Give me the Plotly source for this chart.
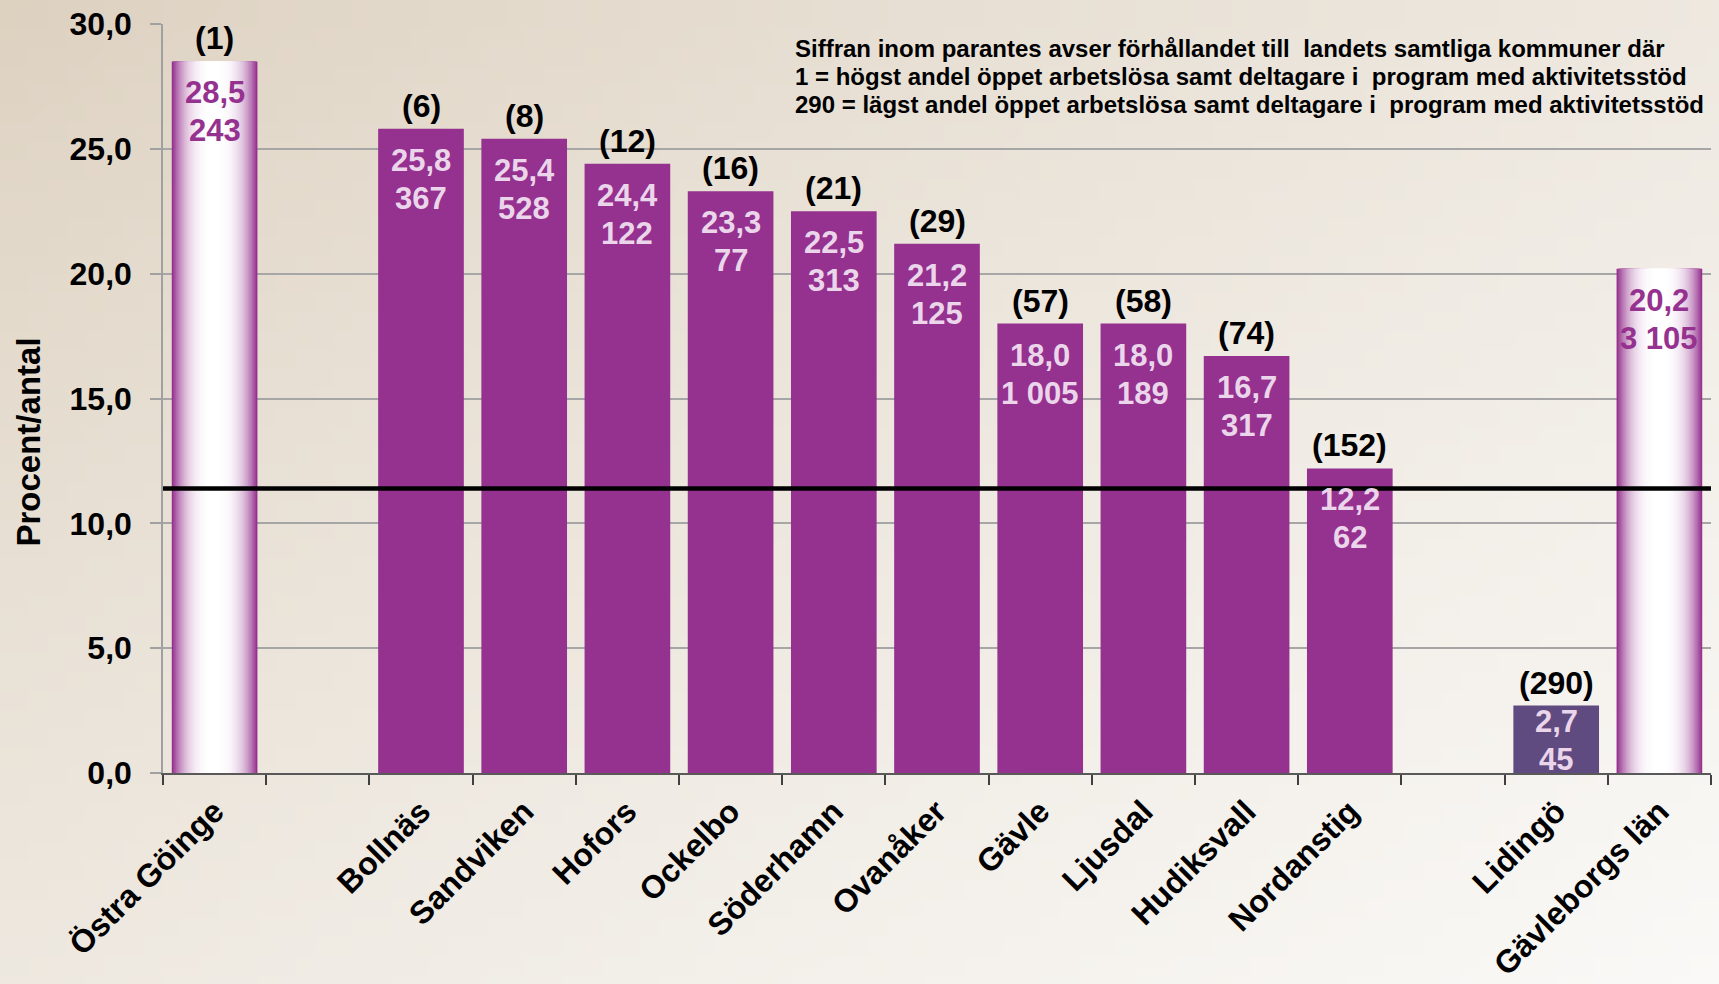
import base64, struct, zlib
import plotly.graph_objects as go

# ---------------- data ----------------
categories = ["Östra Göinge", " ", "Bollnäs", "Sandviken", "Hofors", "Ockelbo",
              "Söderhamn", "Ovanåker", "Gävle", "Ljusdal", "Hudiksvall",
              "Nordanstig", "  ", "Lidingö", "Gävleborgs län"]
percent = [28.5, None, 25.8, 25.4, 24.4, 23.3, 22.5, 21.2, 18.0, 18.0, 16.7,
           12.2, None, 2.7, 20.2]
counts = [243, None, 367, 528, 122, 77, 313, 125, 1005, 189, 317, 62, None, 45, 3105]
ranks = [1, None, 6, 8, 12, 16, 21, 29, 57, 58, 74, 152, None, 290, None]
bar_style = ["gradient", None, "solid", "solid", "solid", "solid", "solid", "solid",
             "solid", "solid", "solid", "solid", None, "dark", "gradient"]
national_avg = 11.4
y_ticks = [0, 5, 10, 15, 20, 25, 30]
note_lines = [
    "Siffran inom parantes avser förhållandet till  landets samtliga kommuner där",
    "1 = högst andel öppet arbetslösa samt deltagare i  program med aktivitetsstöd",
    "290 = lägst andel öppet arbetslösa samt deltagare i  program med aktivitetsstöd",
]
y_title = "Procent/antal"

# ---------------- styling ----------------
W, H = 1719, 984
ML, MR, MT, MB = 163, 8, 24, 211
PW, PH = W - ML - MR, H - MT - MB
Y_MAX = 30
FONT = "Liberation Sans, Arial, sans-serif"
PURPLE = (149, 49, 142)
PURPLE_HEX = "#95318E"
DARK = "#5F4B7F"
LABEL_LIGHT = "#EBD5EB"
BAR_W = 0.83
VAL_SIZE = 31
RANK_SIZE = 32
NOTE_SIZE = 24
NOTE_TOP = 49      # px from top, centre of first note line
NOTE_STEP = 28     # px between note lines
NOTE_LEFT = 793
LABEL_BLOCK = 83   # px needed inside a bar for the two value lines


def fmt_num(v, dec=None):
    if dec is not None:
        return f"{v:.{dec}f}".replace(".", ",")
    return f"{v:,}".replace(",", " ")


def make_png(w, h, fn):
    raw = b""
    for yy in range(h):
        row = b"\x00"
        for xx in range(w):
            row += bytes(fn(xx / (w - 1), yy / (h - 1)))
        raw += row

    def chunk(tag, data):
        c = struct.pack(">I", len(data)) + tag + data
        return c + struct.pack(">I", zlib.crc32(tag + data) & 0xFFFFFFFF)

    png = b"\x89PNG\r\n\x1a\n"
    png += chunk(b"IHDR", struct.pack(">IIBBBBB", w, h, 8, 2, 0, 0, 0))
    png += chunk(b"IDAT", zlib.compress(raw, 9))
    png += chunk(b"IEND", b"")
    return "data:image/png;base64," + base64.b64encode(png).decode()


c0 = (221, 209, 192)
c1 = (250, 249, 247)


def bg_fn(u, v):
    t = (u + v) / 2.0
    t = t ** 0.8
    return tuple(int(round(a + (b - a) * t)) for a, b in zip(c0, c1))


bg_uri = make_png(90, 52, bg_fn)

fig = go.Figure()

# main bars
colors = [DARK if s == "dark" else PURPLE_HEX for s in bar_style]
fig.add_trace(go.Bar(x=categories, y=percent, width=BAR_W,
                     marker=dict(color=colors, line=dict(width=0)),
                     hoverinfo="skip", showlegend=False))

# gradient layers for highlighted bars (purple edges -> white centre)
g_x = [c for c, s in zip(categories, bar_style) if s == "gradient"]
g_y = [p for p, s in zip(percent, bar_style) if s == "gradient"]
N = 32
for i in range(1, N):
    t = i / N
    f = 1 - (1 - t) ** 3
    col = tuple(int(round(p + (255 - p) * f)) for p in PURPLE)
    fig.add_trace(go.Bar(x=g_x, y=g_y, width=BAR_W * (1 - t),
                         marker=dict(color="rgb(%d,%d,%d)" % col, line=dict(width=0)),
                         hoverinfo="skip", showlegend=False))

annotations = []
for c, p, n, r, s in zip(categories, percent, counts, ranks, bar_style):
    if p is None:
        continue
    tcol = PURPLE_HEX if s == "gradient" else LABEL_LIGHT
    bar_px = p * PH / Y_MAX
    lift = max(0.0, LABEL_BLOCK - bar_px)   # keep labels inside short bars
    for k, txt in enumerate([fmt_num(p, 1), fmt_num(n)]):
        annotations.append(dict(
            x=c, y=p, xref="x", yref="y", yanchor="top", xanchor="center",
            text=txt, showarrow=False, yshift=-12 - 38 * k + lift,
            font=dict(family=FONT, size=VAL_SIZE, color=tcol, weight="bold")))
    if r is not None:
        annotations.append(dict(
            x=c, y=p, xref="x", yref="y", yanchor="bottom", xanchor="center",
            text=f"({r})", showarrow=False, yshift=3,
            font=dict(family=FONT, size=RANK_SIZE, color="black", weight="bold")))

annotations.append(dict(
    x=(27.5 - ML) / PW, y=(H - MB - 442) / PH, xref="paper", yref="paper",
    text=y_title, textangle=-90, showarrow=False, xanchor="center", yanchor="middle",
    font=dict(family=FONT, size=33, color="black", weight="bold")))
for k, line in enumerate(note_lines):
    annotations.append(dict(
        x=(NOTE_LEFT - ML) / PW, y=(H - MB - (NOTE_TOP + NOTE_STEP * k)) / PH,
        xref="paper", yref="paper", text=line, showarrow=False,
        xanchor="left", yanchor="middle", align="left",
        font=dict(family=FONT, size=NOTE_SIZE, color="black", weight="bold")))

fig.update_layout(
    width=W, height=H,
    margin=dict(l=ML, r=MR, t=MT, b=MB, autoexpand=False),
    barmode="overlay",
    paper_bgcolor="#ECE6DD",
    plot_bgcolor="rgba(0,0,0,0)",
    separators=", ",
    showlegend=False,
    annotations=annotations,
    images=[dict(source=bg_uri, xref="paper", yref="paper",
                 x=-ML / PW, y=1 + MT / PH, sizex=W / PW, sizey=H / PH,
                 xanchor="left", yanchor="top", sizing="stretch", layer="below")],
    shapes=[dict(type="line", xref="paper", yref="y", x0=0, x1=1,
                 y0=national_avg, y1=national_avg,
                 line=dict(color="black", width=4.5), layer="above")],
)
fig.update_xaxes(
    categoryorder="array", categoryarray=categories,
    tickangle=-45, tickson="boundaries", ticks="outside", ticklen=10,
    tickcolor="#404040", tickwidth=1.5,
    showline=True, linecolor="#595959", linewidth=2,
    tickfont=dict(family=FONT, size=32, color="black", weight="bold"),
    ticklabelstandoff=5, automargin=False,
    showgrid=False, range=[-0.5, len(categories) - 0.5],
)
fig.update_yaxes(
    range=[0, Y_MAX], tickvals=y_ticks, tickformat=".1f",
    ticks="outside", ticklen=11, tickcolor="#A0A0A0", tickwidth=1.5,
    showline=True, linecolor="#A0A0A0", linewidth=1.5,
    showgrid=True, gridcolor="#A6A6A6", gridwidth=1.5,
    zeroline=False, ticklabelstandoff=12, automargin=False,
    tickfont=dict(family=FONT, size=32, color="black", weight="bold"),
)

fig.write_html(
    "out.html",
    config={"displayModeBar": False},
    post_script="document.body.style.margin='0px';document.body.style.overflow='hidden';",
)
